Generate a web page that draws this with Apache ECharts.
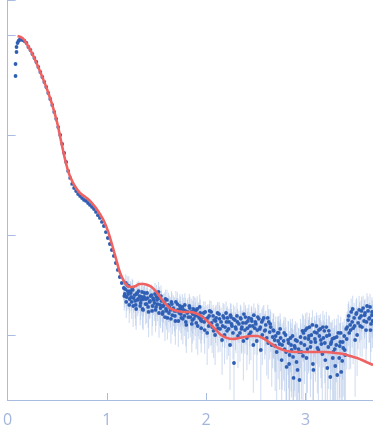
<!DOCTYPE html>
<html>
<head>
<meta charset="utf-8">
<script src="https://cdn.jsdelivr.net/npm/echarts@6/dist/echarts.min.js"></script>
<style>
html,body{margin:0;padding:0;background:#fff;}
#chart{width:373px;height:438px;}
</style>
</head>
<body>
<div id="chart"></div>
<script>
// Fit curve
const fitQ = [0.10,0.13,0.16,0.20,0.25,0.30,0.35,0.40,0.45,0.50,0.53,0.56,0.59,0.62,0.65,0.69,0.73,0.77,0.81,0.85,0.89,0.93,0.97,1.01,1.05,1.09,1.13,1.17,1.21,1.25,1.29,1.33,1.37,1.41,1.45,1.50,1.55,1.60,1.65,1.71,1.77,1.83,1.89,1.95,2.00,2.05,2.10,2.15,2.21,2.27,2.33,2.39,2.45,2.51,2.57,2.63,2.69,2.75,2.81,2.90,3.00,3.10,3.20,3.30,3.38,3.45,3.52,3.59,3.68];
const fitI = [0.977,0.955,0.912,0.794,0.646,0.501,0.380,0.282,0.200,0.132,0.0955,0.0692,0.0513,0.0407,0.0347,0.0295,0.0263,0.0245,0.0229,0.0209,0.0186,0.0162,0.0138,0.0110,0.00813,0.00589,0.00427,0.00347,0.00309,0.00302,0.00309,0.00324,0.00324,0.00316,0.00302,0.00269,0.00229,0.00200,0.00182,0.00174,0.00170,0.00170,0.00166,0.00155,0.00141,0.00126,0.00112,0.00100,0.000933,0.000912,0.000933,0.000955,0.000977,0.000977,0.000933,0.000851,0.000776,0.000724,0.000692,0.000676,0.000676,0.000676,0.000676,0.000661,0.000646,0.000617,0.000589,0.000550,0.000501];

// Low-q experimental points
const lowQ = [0.08,0.08,0.09,0.09,0.10,0.11,0.12,0.13,0.14,0.15,0.17,0.19,0.21,0.23,0.25,0.27,0.29,0.31,0.33,0.35,0.37,0.39,0.41,0.43,0.45,0.47,0.49,0.51,0.53,0.55,0.57,0.59,0.61,0.63,0.65,0.67,0.69,0.71,0.73,0.75,0.77,0.79,0.81,0.83,0.85,0.87,0.89,0.91,0.93,0.95,0.97,0.99,1.01,1.03,1.05,1.07,1.09,1.11,1.13,1.15];
const lowI = [0.389,0.513,0.676,0.759,0.832,0.871,0.891,0.912,0.912,0.891,0.871,0.832,0.759,0.708,0.646,0.589,0.537,0.479,0.427,0.380,0.339,0.302,0.263,0.229,0.200,0.170,0.145,0.120,0.100,0.0813,0.0661,0.0537,0.0437,0.0372,0.0324,0.0295,0.0275,0.0257,0.0245,0.0234,0.0224,0.0219,0.0209,0.0200,0.0191,0.0182,0.0170,0.0158,0.0148,0.0135,0.0123,0.0107,0.00933,0.00813,0.00708,0.00617,0.00525,0.00447,0.00380,0.00331];

// High-q experimental points (set 1)
const highQ = [
1.17,1.18,1.19,1.20,1.21,1.22,1.23,1.24,1.25,1.26,1.27,1.29,1.30,1.31,1.32,1.34,1.35,1.36,1.37,1.38,1.40,1.41,1.42,1.43,1.45,1.46,1.47,1.49,1.50,1.51,1.52,1.54,
1.55,1.56,1.57,1.59,1.60,1.61,1.62,1.64,1.65,1.66,1.67,1.69,1.70,1.71,1.73,1.74,1.75,1.76,1.78,1.79,1.80,1.81,1.83,1.84,1.85,1.86,1.88,1.89,1.90,1.91,1.93,1.94,
1.95,1.96,1.98,1.99,2.00,2.01,2.03,2.04,2.05,2.06,2.08,2.09,2.10,2.11,2.13,2.14,2.15,2.16,2.18,2.19,2.20,2.21,2.23,2.24,2.25,2.26,2.28,2.29,2.30,2.31,2.33,2.34,2.35,2.36,2.38,2.39,2.40,2.41,2.43,2.44,2.45,2.46,2.48,2.49,2.50,2.51,2.53,2.54,2.55,2.56,2.58,2.59,2.60,2.61,2.63,2.64,2.65,2.66,2.68,2.69,2.70,2.71,2.73,2.74,2.75,
2.76,2.78,2.79,2.80,2.81,2.83,2.84,2.85,2.86,2.88,2.89,2.90,2.91,2.93,2.94,2.95,2.96,2.98,2.99,3.00,3.01,3.03,3.04,3.05,3.06,3.08,3.09,3.10,3.11,3.13,3.14,3.15,3.16,3.18,3.19,3.20,3.21,3.23,3.24,3.25,3.26,3.28,3.29,3.30,3.31,3.33,3.34,3.35,3.36,3.38,3.39,3.40,3.41,
3.43,3.44,3.45,3.46,3.48,3.49,3.50,3.51,3.53,3.54,3.55,3.56,3.58,3.59,3.60,3.61,3.63,3.64,3.65,3.66,3.67];
const highI = [
2.95e-3,2.57e-3,3.31e-3,2.40e-3,2.75e-3,3.09e-3,2.29e-3,2.63e-3,2.14e-3,2.82e-3,2.34e-3,2.00e-3,2.57e-3,2.24e-3,2.75e-3,2.09e-3,2.40e-3,1.82e-3,2.29e-3,2.63e-3,2.04e-3,2.34e-3,1.70e-3,2.14e-3,2.51e-3,1.95e-3,2.24e-3,1.78e-3,2.40e-3,2.04e-3,2.69e-3,1.86e-3,
2.19e-3,1.62e-3,1.95e-3,2.29e-3,1.74e-3,1.48e-3,2.00e-3,1.78e-3,2.14e-3,1.58e-3,1.86e-3,1.38e-3,1.74e-3,2.04e-3,1.66e-3,1.82e-3,1.48e-3,1.91e-3,1.55e-3,1.74e-3,1.26e-3,1.66e-3,1.95e-3,1.51e-3,1.70e-3,1.41e-3,1.78e-3,1.55e-3,1.32e-3,1.82e-3,1.48e-3,1.66e-3,
1.17e-3,1.51e-3,1.35e-3,1.70e-3,1.45e-3,1.05e-3,1.55e-3,1.29e-3,1.70e-3,1.20e-3,1.41e-3,1.00e-3,1.48e-3,1.26e-3,1.62e-3,1.15e-3,1.35e-3,8.91e-4,1.48e-3,1.20e-3,1.66e-3,1.10e-3,1.35e-3,7.94e-4,1.51e-3,1.23e-3,5.25e-4,1.41e-3,1.15e-3,1.55e-3,1.29e-3,1.05e-3,1.45e-3,1.20e-3,1.62e-3,1.12e-3,1.32e-3,9.33e-4,1.48e-3,1.23e-3,1.07e-3,1.38e-3,1.58e-3,1.17e-3,1.29e-3,8.71e-4,1.45e-3,1.15e-3,7.08e-4,1.35e-3,1.48e-3,1.10e-3,1.26e-3,9.33e-4,1.35e-3,1.07e-3,1.20e-3,7.94e-4,1.10e-3,8.91e-4,9.77e-4,6.76e-4,1.05e-3,8.13e-4,9.33e-4,
5.62e-4,8.71e-4,7.24e-4,1.00e-3,4.79e-4,8.32e-4,6.31e-4,9.33e-4,7.08e-4,3.72e-4,7.76e-4,8.91e-4,5.37e-4,7.24e-4,3.55e-4,9.55e-4,6.76e-4,1.05e-3,7.94e-4,1.12e-3,5.89e-4,9.12e-4,1.20e-3,7.59e-4,1.00e-3,4.47e-4,1.07e-3,8.51e-4,1.23e-3,7.08e-4,9.77e-4,1.15e-3,8.13e-4,9.33e-4,1.10e-3,5.62e-4,1.20e-3,7.59e-4,1.00e-3,3.80e-4,8.51e-4,6.76e-4,9.33e-4,4.90e-4,7.94e-4,1.05e-3,5.89e-4,8.51e-4,4.27e-4,7.41e-4,9.77e-4,6.31e-4,1.15e-3,
1.41e-3,1.05e-3,1.26e-3,1.70e-3,1.17e-3,1.48e-3,8.91e-4,1.62e-3,1.32e-3,1.78e-3,1.23e-3,1.55e-3,1.86e-3,1.38e-3,1.66e-3,1.12e-3,1.74e-3,1.45e-3,1.91e-3,1.29e-3,1.58e-3];
const highErr = [
7.2e-4,6.8e-4,7.5e-4,6.6e-4,7.0e-4,7.8e-4,6.4e-4,7.1e-4,6.9e-4,7.3e-4,6.7e-4,7.6e-4,6.5e-4,7.0e-4,7.4e-4,6.8e-4,7.1e-4,6.6e-4,7.7e-4,6.9e-4,7.2e-4,6.4e-4,7.5e-4,7.0e-4,6.8e-4,7.3e-4,6.6e-4,7.1e-4,7.6e-4,6.7e-4,7.0e-4,6.9e-4,
6.0e-4,5.7e-4,6.3e-4,5.5e-4,6.1e-4,5.8e-4,6.5e-4,5.9e-4,6.2e-4,5.6e-4,6.4e-4,5.8e-4,6.0e-4,6.3e-4,5.5e-4,6.1e-4,5.9e-4,6.6e-4,5.7e-4,6.2e-4,6.0e-4,5.8e-4,6.4e-4,5.6e-4,6.1e-4,5.9e-4,6.3e-4,5.7e-4,6.0e-4,6.2e-4,5.8e-4,6.1e-4,
5.0e-4,4.8e-4,5.3e-4,4.6e-4,5.1e-4,5.5e-4,4.7e-4,5.2e-4,4.9e-4,5.4e-4,4.6e-4,5.0e-4,5.3e-4,4.8e-4,5.1e-4,4.7e-4,5.2e-4,4.9e-4,5.5e-4,4.6e-4,5.0e-4,5.3e-4,4.8e-4,5.1e-4,5.4e-4,4.7e-4,5.0e-4,5.2e-4,4.9e-4,5.5e-4,4.6e-4,5.1e-4,4.8e-4,5.3e-4,5.0e-4,4.7e-4,5.2e-4,4.9e-4,5.4e-4,4.6e-4,5.1e-4,5.0e-4,4.8e-4,5.3e-4,4.7e-4,5.2e-4,5.5e-4,4.9e-4,5.0e-4,4.6e-4,5.1e-4,5.3e-4,4.8e-4,5.4e-4,4.7e-4,5.0e-4,5.2e-4,4.9e-4,5.1e-4,4.6e-4,5.5e-4,4.8e-4,5.0e-4,5.3e-4,5.0e-4,
4.8e-4,5.2e-4,4.5e-4,5.0e-4,4.9e-4,5.4e-4,4.6e-4,5.1e-4,4.7e-4,5.3e-4,5.0e-4,4.8e-4,5.2e-4,4.6e-4,5.4e-4,4.9e-4,4.5e-4,5.1e-4,4.7e-4,5.3e-4,4.8e-4,5.0e-4,4.6e-4,5.2e-4,4.9e-4,5.4e-4,4.7e-4,5.1e-4,4.5e-4,5.3e-4,5.0e-4,4.8e-4,5.2e-4,4.6e-4,4.9e-4,5.4e-4,5.1e-4,4.7e-4,5.3e-4,4.5e-4,4.8e-4,5.0e-4,5.2e-4,4.9e-4,4.6e-4,5.4e-4,5.1e-4,4.7e-4,5.3e-4,5.0e-4,4.8e-4,5.0e-4,4.6e-4,
6.4e-4,6.0e-4,6.8e-4,6.2e-4,6.6e-4,6.1e-4,6.5e-4,6.4e-4,6.0e-4,6.8e-4,6.2e-4,6.6e-4,6.1e-4,6.5e-4,6.4e-4,6.0e-4,6.8e-4,6.2e-4,6.6e-4,6.1e-4,6.5e-4];

// High-q experimental points (set 2, interleaved)
const highQ2 = [
1.175,1.185,1.195,1.205,1.215,1.225,1.235,1.245,1.255,1.265,1.28,1.285,1.295,1.305,1.315,1.33,1.335,1.345,1.355,1.365,1.375,1.39,1.395,1.405,1.415,1.435,1.44,1.455,1.465,1.48,1.485,1.495,1.505,1.525,1.53,1.535,1.545,
1.555,1.565,1.58,1.585,1.595,1.605,1.625,1.63,1.645,1.655,1.68,1.685,1.695,1.715,1.72,1.735,1.745,1.765,1.77,1.785,1.795,1.815,1.82,1.835,1.855,1.865,1.87,1.875,1.895,1.915,1.92,1.935,1.945,
1.955,1.975,1.985,2.015,2.025,2.035,2.055,2.07,2.075,2.095,2.115,2.12,2.135,2.165,2.17,2.185,2.205,2.215,2.225,2.245,2.255,2.27,2.275,2.295,2.315,2.32,2.345,2.355,2.37,2.375,2.395,2.415,2.42,2.435,2.455,2.47,2.475,2.495,2.515,2.52,2.545,2.565,2.57,2.595,2.62,2.625,2.645,2.67,2.675,2.695,2.72,2.725,2.745,
2.765,2.785,2.805,2.825,2.835,2.855,2.87,2.875,2.895,2.915,2.92,2.935,2.955,2.97,2.975,2.995,3.015,3.02,3.035,3.055,3.07,3.075,3.095,3.115,3.12,3.135,3.155,3.17,3.175,3.195,3.215,3.22,3.235,3.255,3.27,3.275,3.295,3.315,3.32,3.345,3.355,3.37,3.375,3.395,3.415,3.42,
3.435,3.455,3.47,3.475,3.495,3.515,3.52,3.545,3.565,3.57,3.595,3.615,3.62,3.645,3.655,3.67,3.675];
const highI2 = [
2.45e-3,2.88e-3,2.14e-3,3.16e-3,2.57e-3,2.00e-3,2.75e-3,2.40e-3,2.95e-3,1.95e-3,2.51e-3,2.19e-3,1.82e-3,2.63e-3,2.29e-3,2.45e-3,1.95e-3,2.24e-3,2.69e-3,1.78e-3,2.40e-3,2.04e-3,2.29e-3,2.63e-3,1.91e-3,2.19e-3,2.45e-3,1.74e-3,2.34e-3,2.09e-3,2.57e-3,1.91e-3,2.24e-3,1.66e-3,2.34e-3,2.00e-3,2.45e-3,
1.95e-3,1.70e-3,2.09e-3,1.51e-3,1.82e-3,2.24e-3,1.66e-3,1.91e-3,1.45e-3,2.04e-3,1.74e-3,1.55e-3,2.14e-3,1.78e-3,1.38e-3,1.95e-3,1.62e-3,1.45e-3,1.78e-3,2.00e-3,1.35e-3,1.70e-3,1.51e-3,1.86e-3,1.29e-3,1.62e-3,1.82e-3,1.45e-3,1.74e-3,1.23e-3,1.55e-3,1.91e-3,1.41e-3,
1.38e-3,1.66e-3,1.12e-3,1.48e-3,1.23e-3,1.74e-3,1.32e-3,1.55e-3,1.10e-3,1.38e-3,1.66e-3,1.17e-3,1.45e-3,1.23e-3,1.55e-3,1.00e-3,1.35e-3,1.48e-3,1.15e-3,1.58e-3,1.29e-3,1.05e-3,1.45e-3,1.20e-3,1.35e-3,9.77e-4,1.48e-3,1.15e-3,1.32e-3,8.71e-4,1.51e-3,1.17e-3,1.38e-3,1.02e-3,1.45e-3,1.23e-3,7.94e-4,1.35e-3,1.12e-3,1.51e-3,1.20e-3,1.00e-3,1.41e-3,1.12e-3,1.48e-3,8.32e-4,1.29e-3,9.55e-4,1.12e-3,7.76e-4,1.05e-3,8.71e-4,1.15e-3,
7.94e-4,1.05e-3,6.76e-4,8.91e-4,5.13e-4,7.94e-4,9.77e-4,6.03e-4,7.41e-4,8.71e-4,4.47e-4,6.76e-4,8.32e-4,1.10e-3,6.17e-4,9.33e-4,1.17e-3,7.24e-4,9.77e-4,8.51e-4,1.26e-3,5.13e-4,9.12e-4,1.05e-3,7.41e-4,1.12e-3,8.91e-4,6.46e-4,1.20e-3,8.32e-4,9.77e-4,4.68e-4,1.10e-3,8.13e-4,9.12e-4,5.89e-4,7.24e-4,9.55e-4,3.98e-4,7.76e-4,1.05e-3,5.50e-4,8.51e-4,7.08e-4,9.12e-4,1.20e-3,
1.55e-3,1.12e-3,1.35e-3,1.82e-3,1.23e-3,1.66e-3,1.00e-3,1.48e-3,1.74e-3,1.20e-3,1.58e-3,1.35e-3,1.95e-3,1.48e-3,1.12e-3,1.70e-3,1.38e-3];
const highErr2 = [
6.9e-4,7.4e-4,6.6e-4,7.1e-4,7.7e-4,6.8e-4,7.2e-4,6.5e-4,7.0e-4,7.5e-4,6.7e-4,7.3e-4,6.9e-4,7.6e-4,6.4e-4,7.1e-4,7.0e-4,6.8e-4,7.4e-4,6.6e-4,7.2e-4,7.7e-4,6.9e-4,6.5e-4,7.3e-4,7.0e-4,6.8e-4,7.5e-4,6.6e-4,7.1e-4,7.4e-4,6.7e-4,7.0e-4,7.2e-4,6.9e-4,7.6e-4,6.8e-4,
5.9e-4,6.2e-4,5.6e-4,6.4e-4,5.8e-4,6.1e-4,6.0e-4,5.7e-4,6.3e-4,5.9e-4,6.5e-4,5.8e-4,6.1e-4,5.6e-4,6.2e-4,6.0e-4,5.7e-4,6.4e-4,5.9e-4,6.1e-4,5.8e-4,6.3e-4,6.0e-4,5.5e-4,6.2e-4,5.9e-4,6.4e-4,5.7e-4,6.1e-4,6.0e-4,5.8e-4,6.3e-4,5.9e-4,
4.9e-4,5.2e-4,4.7e-4,5.4e-4,5.0e-4,4.8e-4,5.3e-4,4.6e-4,5.1e-4,5.5e-4,4.8e-4,5.0e-4,5.2e-4,4.7e-4,5.4e-4,4.9e-4,5.1e-4,4.6e-4,5.3e-4,5.0e-4,5.2e-4,4.8e-4,5.5e-4,4.9e-4,4.7e-4,5.1e-4,5.3e-4,5.0e-4,4.6e-4,5.2e-4,4.9e-4,5.4e-4,4.8e-4,5.1e-4,5.0e-4,4.7e-4,5.3e-4,5.2e-4,4.9e-4,5.5e-4,4.6e-4,5.0e-4,5.1e-4,4.8e-4,5.3e-4,4.7e-4,5.2e-4,4.9e-4,5.4e-4,5.0e-4,4.8e-4,5.1e-4,4.9e-4,
5.1e-4,4.7e-4,5.3e-4,4.9e-4,4.6e-4,5.2e-4,4.8e-4,5.4e-4,5.0e-4,4.5e-4,5.1e-4,4.9e-4,4.7e-4,5.3e-4,4.8e-4,5.0e-4,5.2e-4,4.6e-4,5.4e-4,4.9e-4,5.1e-4,4.7e-4,5.0e-4,5.3e-4,4.8e-4,4.6e-4,5.2e-4,4.9e-4,5.4e-4,5.0e-4,4.7e-4,5.1e-4,4.8e-4,5.3e-4,4.9e-4,4.6e-4,5.2e-4,5.0e-4,4.8e-4,5.4e-4,4.7e-4,5.1e-4,4.9e-4,5.0e-4,4.6e-4,5.2e-4,
6.2e-4,6.6e-4,6.0e-4,6.5e-4,6.3e-4,6.8e-4,6.1e-4,6.4e-4,6.7e-4,6.0e-4,6.5e-4,6.2e-4,6.6e-4,6.3e-4,6.1e-4,6.8e-4,6.4e-4];

const fitData = fitQ.map((q, i) => [q, fitI[i]]);
const pointData = lowQ.map((q, i) => [q, lowI[i]])
  .concat(highQ.map((q, i) => [q, highI[i]]))
  .concat(highQ2.map((q, i) => [q, highI2[i]]));
const errData = highQ.map((q, i) => [q, highI[i], highErr[i] !== undefined ? highErr[i] : 5e-4])
  .concat(highQ2.map((q, i) => [q, highI2[i], highErr2[i] !== undefined ? highErr2[i] : 5e-4]));

const chart = echarts.init(document.getElementById('chart'), null, {renderer: 'canvas'});
const axisColor = '#a9bbe0';
chart.setOption({
  backgroundColor: '#ffffff',
  animation: false,
  grid: {left: 5, right: 0, top: 0, bottom: 38, containLabel: false},
  xAxis: {
    type: 'value', min: 0, max: 3.68, interval: 1,
    axisLine: {show: true, lineStyle: {color: axisColor, width: 1}},
    axisTick: {show: true, inside: true, length: 7, lineStyle: {color: axisColor}},
    axisLabel: {show: true, color: '#a3b5dc', fontSize: 16, margin: 12, fontFamily: 'Open Sans, sans-serif', showMaxLabel: false},
    splitLine: {show: false}
  },
  yAxis: {
    type: 'log', logBase: 10, min: 2.2387e-4, max: 2.2387,
    axisLine: {show: true, lineStyle: {color: axisColor, width: 1}},
    axisTick: {show: true, inside: true, length: 8, lineStyle: {color: axisColor}},
    axisLabel: {show: false},
    splitLine: {show: false}
  },
  series: [
    {
      type: 'custom', data: errData, clip: true, z: 1,
      encode: {x: 0, y: 1},
      renderItem: function (params, api) {
        const q = api.value(0), v = api.value(1), s = api.value(2);
        const lo = Math.max(v - s, 1e-5);
        const p1 = api.coord([q, v + s]);
        const p2 = api.coord([q, lo]);
        return {type: 'line', shape: {x1: p1[0], y1: p1[1], x2: p2[0], y2: p2[1]},
          style: {stroke: 'rgba(165,190,230,0.5)', lineWidth: 1.1}};
      }
    },
    {
      type: 'scatter', data: pointData, symbol: 'circle', symbolSize: 3.8, z: 2,
      itemStyle: {color: '#2f5fb4', opacity: 1}
    },
    {
      type: 'line', data: fitData, smooth: 0.4, showSymbol: false, z: 3,
      lineStyle: {color: '#ef6262', width: 2.6}
    }
  ]
});
</script>
</body>
</html>
